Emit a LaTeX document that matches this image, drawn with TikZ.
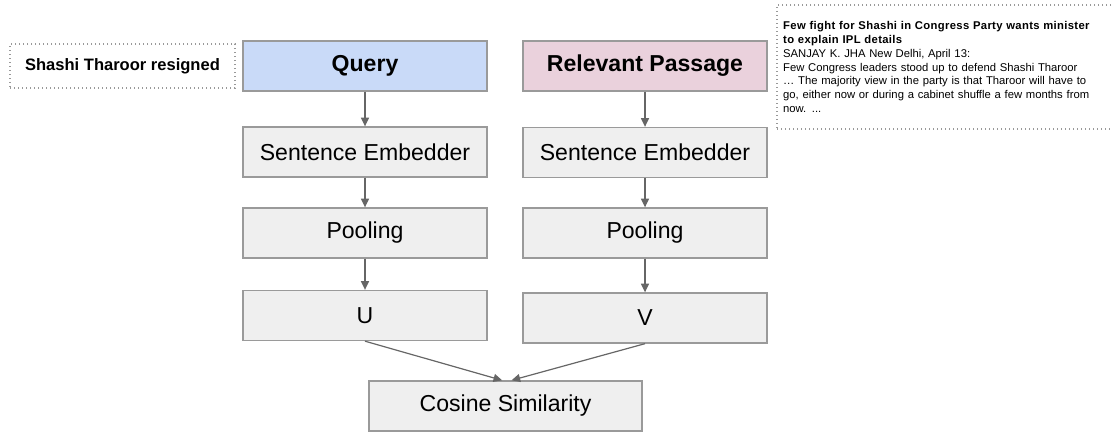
\documentclass[tikz,border=0pt]{standalone}
\usepackage{fontspec}
\setmainfont{Liberation Sans}
\usetikzlibrary{arrows.meta}
\definecolor{queryblue}{HTML}{C9DAF8}
\definecolor{passagepink}{HTML}{EAD1DC}
\definecolor{boxfill}{HTML}{EFEFEF}
\definecolor{boxedge}{HTML}{9A9A9A}
\definecolor{arrowgray}{HTML}{666666}
\definecolor{notegray}{HTML}{999999}
\tikzset{
  stagebox/.style={rectangle,draw=boxedge,fill=boxfill,line width=1pt,
    minimum width=183pt,minimum height=37.5pt,inner sep=0pt,
    font=\fontsize{17.3}{20}\selectfont},
  inputbox/.style={stagebox,font=\fontsize{17.3}{20}\selectfont\bfseries},
  notebox/.style={rectangle,draw=notegray,dotted,line width=1pt},
  flow/.style={-{Triangle[length=6.5pt,width=6pt]},draw=arrowgray,line width=0.9pt}
}
\newcommand{\stagenode}{\node[stagebox]}
\newcommand{\inputnode}{\node[inputbox]}
\begin{document}
\begin{tikzpicture}[x=0.75pt,y=-0.75pt]
  \useasboundingbox (0,0) rectangle (1113,432);
  \node[notebox,minimum width=168.75pt,minimum height=33pt,
    font=\fontsize{12.4}{14}\selectfont\bfseries] (claim) at (122.5,66) {Shashi Tharoor resigned}; % the claim
  \inputnode[fill=queryblue] (query) at (365,66) {Query}; % query side
  \inputnode[fill=passagepink] (passage) at (645,66) {Relevant Passage}; % passage side
  \node[notebox,minimum width=252.75pt,minimum height=93pt,inner xsep=4.5pt,
    text width=243.5pt,align=left,font=\fontsize{8.45}{10.3}\selectfont] (article) at (945.5,67)
    {{\addfontfeature{LetterSpace=3}\bfseries Few fight for Shashi in Congress Party wants minister}\\
     {\addfontfeature{LetterSpace=3}\bfseries to explain IPL details}\\
     SANJAY K. JHA New Delhi, April 13:\\
     Few Congress leaders stood up to defend Shashi Tharoor\\
     … The majority view in the party is that Tharoor will have to\\
     go, either now or during a cabinet shuffle a few months from\\
     now. ...}; % the passage text
  \stagenode (embedq) at (365,152) {Sentence Embedder};
  \stagenode (embedp) at (645,152.5) {Sentence Embedder};
  \stagenode (poolq) at (365,233) {Pooling};
  \stagenode (poolp) at (645,233) {Pooling};
  \stagenode (u) at (365,315.5) {U}; % query vector
  \stagenode (v) at (645,318) {V}; % passage vector
  \stagenode[minimum width=204.75pt] (cosine) at (505.5,406) {Cosine Similarity}; % score
  %%%% graph links
  \draw[flow] (query) -- (embedq);
  \draw[flow] (embedq) -- (poolq);
  \draw[flow] (poolq) -- (u);
  \draw[flow] (passage) -- (embedp);
  \draw[flow] (embedp) -- (poolp);
  \draw[flow] (poolp) -- (v);
  \draw[flow] (u.south) -- ([xshift=-2.5pt]cosine.north);
  \draw[flow] (v.south) -- ([xshift=4.5pt]cosine.north);
\end{tikzpicture}
\end{document}
